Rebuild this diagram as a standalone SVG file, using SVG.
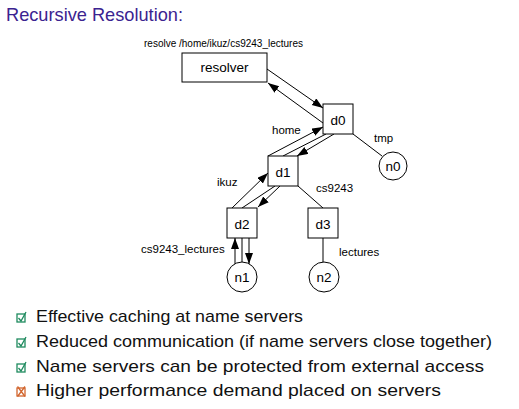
<svg xmlns="http://www.w3.org/2000/svg" width="519" height="409" viewBox="0 0 519 409">
<defs>
<marker id="ah" markerUnits="userSpaceOnUse" markerWidth="12" markerHeight="9" refX="11" refY="4" orient="auto">
<path d="M0,0 L11,4 L0,8 z" fill="#000"/>
</marker>
<style>
.box{fill:#fff;stroke:#000;stroke-width:1}
.lbl{font-family:"Liberation Sans",Arial,sans-serif;font-size:13.5px;fill:#000;text-anchor:middle}
.sm{font-family:"Liberation Sans",Arial,sans-serif;font-size:11.5px;fill:#000}
.ln{stroke:#000;stroke-width:1;fill:none}
.ar{stroke:#000;stroke-width:1;fill:none;marker-end:url(#ah)}
.bul{font-family:"Liberation Sans",Arial,sans-serif;font-size:17px;fill:#111}
.chk{fill:none;stroke:#1e8a5e;stroke-width:1.3}
.crs{fill:none;stroke:#d2652d;stroke-width:1.3}
</style>
</defs>
<rect width="519" height="409" fill="#fff"/>
<text x="6" y="21" font-family="'Liberation Sans',Arial,sans-serif" font-size="18.5" fill="#3b2390" textLength="177" lengthAdjust="spacingAndGlyphs">Recursive Resolution:</text>
<text x="144" y="47" font-family="'Liberation Sans',Arial,sans-serif" font-size="10" fill="#000">resolve /home/ikuz/cs9243_lectures</text>

<g id="connectors">
<line class="ar" x1="267" y1="69" x2="323" y2="108"/>
<line class="ar" x1="323" y1="123" x2="268" y2="83"/>
<line class="ln" x1="353" y1="134" x2="382" y2="156"/>
<line class="ar" x1="268" y1="156" x2="323" y2="127"/>
<line class="ln" x1="283" y1="156" x2="326" y2="134"/>
<line class="ar" x1="334" y1="134" x2="297" y2="156"/>
<line class="ar" x1="232" y1="208" x2="268" y2="173"/>
<line class="ln" x1="242" y1="208" x2="275" y2="186"/>
<line class="ar" x1="280" y1="186" x2="258" y2="207"/>
<line class="ln" x1="298" y1="186" x2="323" y2="208"/>
<line class="ln" x1="323" y1="238" x2="323" y2="263"/>
<line class="ar" x1="235" y1="264" x2="235" y2="238"/>
<line class="ln" x1="242" y1="238" x2="242" y2="262"/>
<line class="ar" x1="249" y1="238" x2="249" y2="264"/>
</g>

<g id="resolver"><rect class="box" x="182" y="53" width="85" height="29"/><text class="lbl" x="224.5" y="72">resolver</text></g>
<g id="d0"><rect class="box" x="323" y="104" width="30" height="30"/><text class="lbl" x="338" y="124.5">d0</text></g>
<g id="d1"><rect class="box" x="268" y="156" width="30" height="30"/><text class="lbl" x="283" y="176.5">d1</text></g>
<g id="d2"><rect class="box" x="227" y="208" width="30" height="30"/><text class="lbl" x="242" y="228.5">d2</text></g>
<g id="d3"><rect class="box" x="308" y="208" width="30" height="30"/><text class="lbl" x="323" y="228.5">d3</text></g>
<g id="n0"><circle class="box" cx="393" cy="166" r="14"/><text class="lbl" x="393" y="170.5">n0</text></g>
<g id="n1"><circle class="box" cx="242" cy="277" r="15"/><text class="lbl" x="242" y="282">n1</text></g>
<g id="n2"><circle class="box" cx="324" cy="277" r="15"/><text class="lbl" x="324" y="282">n2</text></g>

<g id="edge-labels">
<text class="sm" x="272" y="134">home</text>
<text class="sm" x="374" y="142">tmp</text>
<text class="sm" x="217" y="186">ikuz</text>
<text class="sm" x="316" y="192">cs9243</text>
<text class="sm" x="141" y="253">cs9243_lectures</text>
<text class="sm" x="339" y="256">lectures</text>
</g>

<g id="bullets">
<g><rect class="chk" x="17" y="314" width="8" height="8"/><path class="chk" d="M18.5,318 L21,321 L26,312" stroke-width="1.8"/></g>
<text class="bul" x="36" y="322" textLength="267" lengthAdjust="spacingAndGlyphs">Effective caching at name servers</text>
<g><rect class="chk" x="17" y="339" width="8" height="8"/><path class="chk" d="M18.5,343 L21,346 L26,337" stroke-width="1.8"/></g>
<text class="bul" x="36" y="347" textLength="456" lengthAdjust="spacingAndGlyphs">Reduced communication (if name servers close together)</text>
<g><rect class="chk" x="17" y="364" width="8" height="8"/><path class="chk" d="M18.5,368 L21,371 L26,362" stroke-width="1.8"/></g>
<text class="bul" x="36" y="372" textLength="448" lengthAdjust="spacingAndGlyphs">Name servers can be protected from external access</text>
<g><rect class="crs" x="17" y="388" width="8" height="8"/><path class="crs" d="M17.5,386.5 L25,396.5 M25,386.5 L17.5,396.5" stroke-width="1.8"/></g>
<text class="bul" x="36" y="396" textLength="405" lengthAdjust="spacingAndGlyphs">Higher performance demand placed on servers</text>
</g>
</svg>
